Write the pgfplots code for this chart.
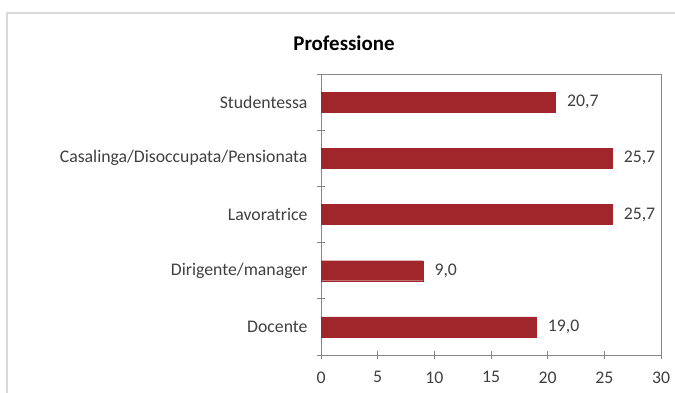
\documentclass[border=0pt]{standalone}
\usepackage{pgfplots}
\pgfplotsset{compat=1.18}
\usepackage{fontspec}
\setmainfont{Carlito}
\definecolor{barred}{HTML}{A0262B}
\definecolor{axgray}{HTML}{868686}
\definecolor{txt}{HTML}{404040}
\definecolor{framecol}{HTML}{D9D9D9}
\begin{document}
\begin{tikzpicture}[x=1bp,y=1bp]
\useasboundingbox (0,0) rectangle (675,392);
\clip (0,0) rectangle (675,392);
\fill[white] (0,0) rectangle (675,392);
\draw[framecol, line width=1.2bp] (7,-10) -- (7,379) -- (690,379);
\node[font=\bfseries\fontsize{21}{25}\selectfont, text=black] at (344,349) {Professione};
\begin{axis}[
  at={(321bp,37bp)}, anchor=south west,
  scale only axis, width=340bp, height=281bp,
  xmin=0, xmax=30, ymin=-0.5, ymax=4.5,
  xbar, bar width=20bp,
  xtick={0,5,...,30},
  ytick={0,1,2,3,4},
  yticklabels={Docente,Dirigente/manager,Lavoratrice,Casalinga/Disoccupata/Pensionata,Studentessa},
  minor ytick={-0.5,0.5,1.5,2.5,3.5,4.5},
  major tick length=8bp, minor tick length=8bp,
  ytick style={draw=none},
  minor y tick style={draw=axgray, line width=0.8bp},
  xtick style={draw=axgray, line width=0.8bp},
  tick align=center,
  xtick pos=lower, ytick pos=left,
  axis line style={draw=axgray, line width=0.9bp},
  ticklabel style={font=\fontsize{17.8}{20}\selectfont, text=txt},
  xticklabel style={yshift=-9bp},
  yticklabel style={xshift=-6bp},
  point meta=x,
  nodes near coords={\pgfmathprintnumber[fixed,fixed zerofill,precision=1,use comma]{\pgfplotspointmeta}},
  nodes near coords align=horizontal,
  nodes near coords style={font=\fontsize{17.8}{20}\selectfont, text=txt, xshift=8bp},
  /pgf/number format/assume math mode=true,
]
\addplot[fill=barred, draw=barred] coordinates {(19.0,0) (9.0,1) (25.7,2) (25.7,3) (20.7,4)};
\end{axis}
\end{tikzpicture}
\end{document}
